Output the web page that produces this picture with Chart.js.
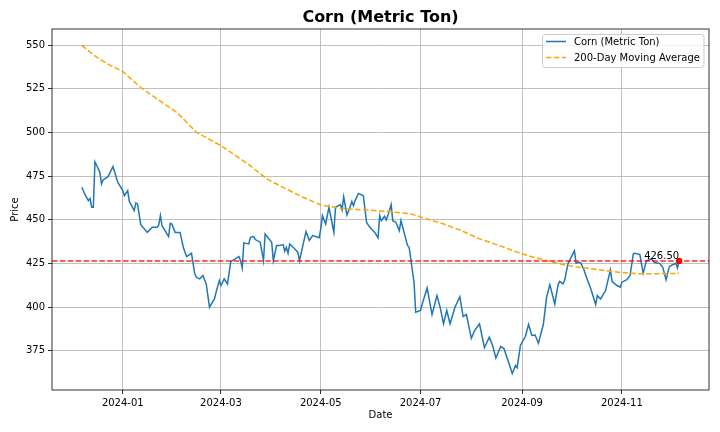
<!DOCTYPE html>
<html>
<head>
<meta charset="utf-8">
<script src="https://cdn.jsdelivr.net/npm/chart.js@4.4.1/dist/chart.umd.min.js"></script>
<style>
html, body { margin: 0; padding: 0; background: #fff; }
</style>
</head>
<body>
<canvas id="myChart" width="720" height="432"></canvas>
<script>
const priceDates = ['2023-12-07','2023-12-09','2023-12-11','2023-12-12','2023-12-13','2023-12-14','2023-12-15','2023-12-18','2023-12-19','2023-12-20','2023-12-23','2023-12-26','2023-12-29',
    '2024-01-01','2024-01-02','2024-01-04','2024-01-05','2024-01-08','2024-01-09','2024-01-10','2024-01-12','2024-01-16','2024-01-19','2024-01-22','2024-01-23','2024-01-24','2024-01-25','2024-01-29','2024-01-30','2024-01-31',
    '2024-02-02','2024-02-05','2024-02-07','2024-02-09','2024-02-12','2024-02-14','2024-02-15','2024-02-17','2024-02-19','2024-02-21','2024-02-23','2024-02-26','2024-02-27','2024-02-29',
    '2024-03-01','2024-03-03','2024-03-05','2024-03-07','2024-03-09','2024-03-12','2024-03-13','2024-03-14','2024-03-15','2024-03-18','2024-03-19','2024-03-21','2024-03-22','2024-03-25','2024-03-27','2024-03-28',
    '2024-04-01','2024-04-02','2024-04-04','2024-04-06','2024-04-08','2024-04-09','2024-04-10','2024-04-11','2024-04-12','2024-04-15','2024-04-17','2024-04-18','2024-04-20','2024-04-22','2024-04-24','2024-04-26','2024-04-30',
    '2024-05-01','2024-05-02','2024-05-04','2024-05-06','2024-05-08','2024-05-09','2024-05-10','2024-05-13','2024-05-14','2024-05-15','2024-05-17','2024-05-19','2024-05-20','2024-05-21','2024-05-22','2024-05-24','2024-05-27','2024-05-29','2024-05-31',
    '2024-06-03','2024-06-05','2024-06-06','2024-06-07','2024-06-09','2024-06-10','2024-06-11','2024-06-13','2024-06-14','2024-06-16','2024-06-18','2024-06-19','2024-06-23','2024-06-24','2024-06-26','2024-06-27','2024-06-28',
    '2024-07-01','2024-07-02','2024-07-05','2024-07-08','2024-07-11','2024-07-13','2024-07-15','2024-07-17','2024-07-19','2024-07-22','2024-07-25','2024-07-27','2024-07-29',
    '2024-08-01','2024-08-03','2024-08-06','2024-08-09','2024-08-12','2024-08-14','2024-08-16','2024-08-19','2024-08-21','2024-08-24','2024-08-26','2024-08-28','2024-08-29','2024-08-31',
    '2024-09-03','2024-09-05','2024-09-07','2024-09-09','2024-09-11','2024-09-14','2024-09-16','2024-09-18','2024-09-21','2024-09-23','2024-09-24','2024-09-26','2024-09-27','2024-09-29',
    '2024-10-01','2024-10-03','2024-10-04','2024-10-06','2024-10-07','2024-10-09','2024-10-10','2024-10-13','2024-10-16','2024-10-17','2024-10-19','2024-10-22','2024-10-25','2024-10-26','2024-10-29','2024-10-31',
    '2024-11-01','2024-11-04','2024-11-06','2024-11-08','2024-11-09','2024-11-12','2024-11-14','2024-11-16','2024-11-19','2024-11-21','2024-11-24','2024-11-26','2024-11-28','2024-11-30',
    '2024-12-02','2024-12-04','2024-12-05','2024-12-06'];
const priceValues = [468.6,464.2,461.0,462.2,457.2,457.2,483.2,477.2,470.5,472.8,474.7,480.5,471.4,
    466.7,463.8,466.7,460.5,455.3,459.7,459.1,447.2,442.8,445.7,445.7,447.1,452.4,446.6,440.4,448.0,447.6,
    442.8,442.8,434.3,428.9,430.8,419.1,417.1,416.2,418.1,413.3,400.0,404.7,408.5,415.2,
    412.4,416.2,413.3,426.1,427.2,428.9,426.6,422.4,436.8,436.2,440.0,440.4,438.7,437.2,426.6,441.9,
    437.2,426.6,435.3,435.3,435.8,432.0,434.3,430.8,436.2,433.4,431.4,426.6,435.1,443.2,438.2,441.0,439.7,
    444.8,452.4,447.6,457.2,447.6,442.8,457.2,458.7,455.7,463.2,452.8,457.6,460.5,458.1,461.0,465.1,463.8,448.5,445.7,
    442.8,439.7,452.4,449.5,452.0,449.9,452.4,458.7,449.5,448.5,443.8,449.5,435.3,434.3,421.0,414.1,397.1,
    398.1,401.8,411.0,395.8,406.6,399.7,390.5,398.1,390.5,400.0,406.0,394.6,395.8,
    382.2,386.6,390.5,376.8,382.8,378.1,370.9,377.5,376.2,367.9,362.0,366.6,365.3,378.1,
    383.2,390.1,383.8,384.1,379.4,390.1,405.7,412.9,401.8,412.8,414.8,413.3,415.2,424.7,
    428.5,432.3,425.3,425.7,425.1,421.0,418.1,410.5,401.5,406.6,404.7,409.5,421.3,414.8,412.4,411.4,
    414.3,415.7,418.1,430.5,430.8,430.1,419.4,426.6,427.6,425.6,425.1,422.8,415.7,423.2,
    424.3,425.1,422.4,426.5];

const maDates = ['2023-12-07','2023-12-14','2023-12-22','2024-01-01','2024-01-12','2024-01-22','2024-02-03','2024-02-15','2024-03-01','2024-03-11','2024-03-19','2024-03-29',
    '2024-04-08','2024-04-18','2024-05-01','2024-05-13','2024-05-27','2024-06-12','2024-06-25','2024-07-05','2024-07-15','2024-07-25','2024-08-06','2024-08-18',
    '2024-08-31','2024-09-12','2024-09-24','2024-10-06','2024-10-19','2024-10-31','2024-11-12','2024-11-24','2024-12-06'];
const maValues = [549.8,544.4,539.5,534.9,525.7,519.2,511.5,500.1,492.4,486.1,480.9,473.4,
    468.6,463.8,458.5,456.6,455.7,454.7,453.4,450.5,447.6,444.2,439.1,435.3,
    430.8,427.6,424.7,422.8,421.3,419.9,419.1,419.1,419.4];

const xTickDates = ['2024-01-01','2024-03-01','2024-05-01','2024-07-01','2024-09-01','2024-11-01'];
const yTicks = [375, 400, 425, 450, 475, 500, 525, 550];
const lastPrice = 426.5;
const lastDate = '2024-12-06';

const FONT = 'DejaVu Sans';
const toTime = s => Date.UTC(+s.slice(0, 4), +s.slice(5, 7) - 1, +s.slice(8, 10));
const toPoints = (dates, vals) => dates.map((d, i) => ({ x: toTime(d), y: vals[i] }));

const tFirst = toTime(priceDates[0]);
const tLast = toTime(priceDates[priceDates.length - 1]);
const xPad = (tLast - tFirst) * 0.05;
const xMin = tFirst - xPad, xMax = tLast + xPad;
const allY = priceValues.concat(maValues);
const yLo = Math.min(...allY), yHi = Math.max(...allY);
const yPad = (yHi - yLo) * 0.05;

const frameAndText = {
    id: 'frameAndText',
    afterDraw(chart) {
        const { ctx, chartArea: a } = chart;
        ctx.save();
        // axes frame
        ctx.strokeStyle = '#000';
        ctx.lineWidth = 0.8;
        ctx.strokeRect(a.left, a.top, a.right - a.left, a.bottom - a.top);

        // title and axis labels
        const cx = (a.left + a.right) / 2;
        ctx.fillStyle = '#000';
        ctx.textAlign = 'center';
        ctx.textBaseline = 'middle';
        ctx.font = 'bold 16px "' + FONT + '"';
        ctx.fillText('Corn (Metric Ton)', cx, 17.5);
        ctx.font = '10px "' + FONT + '"';
        ctx.fillText('Date', cx, 415);
        ctx.save();
        ctx.translate(15, (a.top + a.bottom) / 2);
        ctx.rotate(-Math.PI / 2);
        ctx.fillText('Price', 0, 0);
        ctx.restore();

        // last price label
        const px = chart.scales.x.getPixelForValue(toTime(lastDate));
        const py = chart.scales.y.getPixelForValue(lastPrice);
        ctx.textAlign = 'right';
        ctx.textBaseline = 'bottom';
        ctx.fillText(lastPrice.toFixed(2), px, py + 1);

        // legend
        const lx = 542.5, ly = 34.5, lw = 161.5, lh = 33;
        ctx.beginPath();
        ctx.roundRect(lx, ly, lw, lh, 3);
        ctx.fillStyle = 'rgba(255,255,255,0.8)';
        ctx.fill();
        ctx.strokeStyle = '#cccccc';
        ctx.lineWidth = 1;
        ctx.stroke();
        const rows = [
            { label: 'Corn (Metric Ton)', color: '#1f77b4', dash: [], y: 41.5 },
            { label: '200-Day Moving Average', color: 'orange', dash: [5.5, 2.4], y: 57.5 }
        ];
        rows.forEach(r => {
            ctx.beginPath();
            ctx.setLineDash(r.dash);
            ctx.strokeStyle = r.color;
            ctx.lineWidth = 1.5;
            ctx.moveTo(546, r.y);
            ctx.lineTo(566, r.y);
            ctx.stroke();
            ctx.setLineDash([]);
            ctx.fillStyle = '#000';
            ctx.textAlign = 'left';
            ctx.textBaseline = 'middle';
            ctx.fillText(r.label, 574, r.y + 0.5);
        });
        ctx.restore();
    }
};

const ctx = document.getElementById('myChart').getContext('2d');
const myChart = new Chart(ctx, {
    type: 'line',
    data: {
        datasets: [
            {
                label: 'last',
                data: [{ x: toTime(lastDate), y: lastPrice }],
                showLine: false,
                pointRadius: 3.2,
                pointBackgroundColor: 'red',
                pointBorderWidth: 0,
                order: 0
            },
            {
                label: 'level',
                data: [{ x: xMin, y: lastPrice }, { x: xMax, y: lastPrice }],
                borderColor: 'rgba(255,0,0,0.85)',
                borderWidth: 1.5,
                borderDash: [5.5, 2.4],
                pointRadius: 0,
                order: 1
            },
            {
                label: '200-Day Moving Average',
                data: toPoints(maDates, maValues),
                borderColor: 'orange',
                borderWidth: 1.5,
                borderDash: [5.5, 2.4],
                pointRadius: 0,
                tension: 0,
                order: 2
            },
            {
                label: 'Corn (Metric Ton)',
                data: toPoints(priceDates, priceValues),
                borderColor: '#1f77b4',
                borderWidth: 1.5,
                pointRadius: 0,
                tension: 0,
                order: 3
            }
        ]
    },
    options: {
        responsive: false,
        animation: false,
        layout: { padding: { top: 29, right: 11, left: 0, bottom: 0 } },
        plugins: {
            legend: { display: false },
            title: { display: false },
            tooltip: { enabled: false }
        },
        scales: {
            x: {
                type: 'linear',
                min: xMin,
                max: xMax,
                afterFit: s => { s.height = 42; },
                afterBuildTicks: s => { s.ticks = xTickDates.map(d => ({ value: toTime(d) })); },
                grid: { color: '#b0b0b0', lineWidth: 0.8, tickColor: '#000', tickLength: 4 },
                border: { display: false },
                ticks: {
                    color: '#000',
                    padding: 3,
                    maxRotation: 0,
                    font: { family: FONT, size: 10 },
                    callback: v => {
                        const d = new Date(v);
                        return d.getUTCFullYear() + '-' + String(d.getUTCMonth() + 1).padStart(2, '0');
                    }
                }
            },
            y: {
                min: yLo - yPad,
                max: yHi + yPad,
                afterFit: s => { s.width = 52; },
                afterBuildTicks: s => { s.ticks = yTicks.map(v => ({ value: v })); },
                grid: { color: '#b0b0b0', lineWidth: 0.8, tickColor: '#000', tickLength: 4 },
                border: { display: false },
                ticks: {
                    color: '#000',
                    padding: 3,
                    font: { family: FONT, size: 10 }
                }
            }
        }
    },
    plugins: [frameAndText]
});
</script>
</body>
</html>
